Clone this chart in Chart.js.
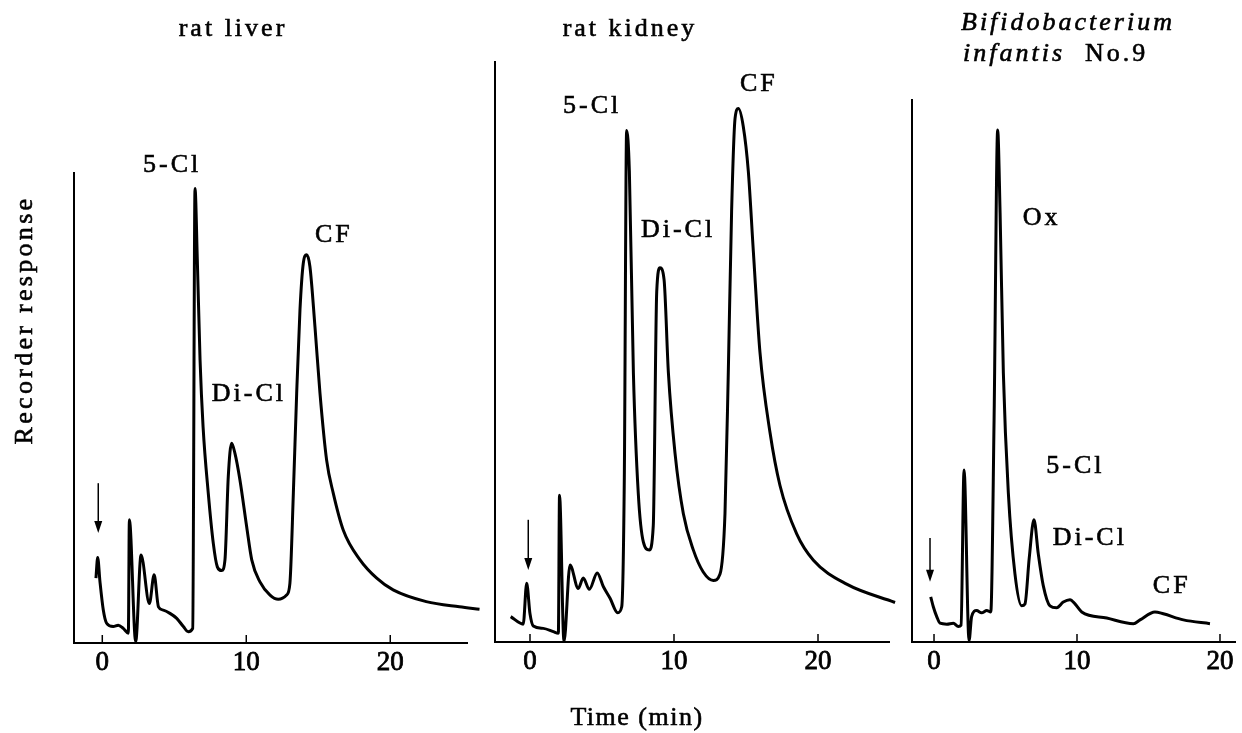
<!DOCTYPE html>
<html>
<head>
<meta charset="utf-8">
<title>Chromatograms</title>
<script src="https://cdn.jsdelivr.net/npm/chart.js@4.4.1/dist/chart.umd.min.js"></script>
<style>
    body { margin: 0; background: #fff; }
    #wrap { position: relative; width: 1242px; height: 733px; }
    .panel { position: absolute; top: 0; height: 733px; }
</style>
</head>
<body>
<div id="wrap">
    <div class="panel" style="left:0;width:490px"><canvas id="c1"></canvas></div>
    <div class="panel" style="left:490px;width:415px"><canvas id="c2"></canvas></div>
    <div class="panel" style="left:905px;width:337px"><canvas id="c3"></canvas></div>
</div>
<script>
// time axis (min) tick labels
const xTicks = [0, 10, 20];

// rat liver
const liverTime = [-0.44, -0.32, -0.16, 0.07, 0.3, 0.76, 1.11, 1.46, 1.81, 1.88, 2.32, 2.69, 3.27, 3.6, 3.9, 4.24, 4.7, 5.17, 5.63, 5.97, 6.28, 6.44, 6.6, 6.79, 7.0, 7.36, 7.71, 7.99, 8.29, 8.52, 8.75, 8.98, 9.21, 9.56, 10.03, 10.38, 10.95, 11.65, 12.22, 12.8, 13.03, 13.27, 13.5, 13.73, 13.96, 14.19, 14.42, 14.77, 15.12, 15.58, 16.04, 16.74, 17.9, 19.06, 20.2, 22.5, 24.8, 26.2];
const liverResp = [13.8, 18.2, 13.0, 7.0, 4.2, 3.5, 3.8, 3.1, 2.1, 26.2, 0.3, 18.7, 8.4, 14.5, 7.7, 7.0, 6.3, 5.25, 3.5, 2.4, 3.1, 96.7, 81.5, 60.2, 46, 31.9, 21.2, 16.2, 15.4, 17.7, 35.4, 42.5, 40.4, 34.7, 24.7, 17.7, 13.0, 10.2, 9.3, 10.2, 12.7, 31.9, 53.1, 70.9, 80.8, 82.6, 80.1, 67.3, 53.1, 38.9, 31.9, 24.0, 17.7, 13.8, 11.3, 8.8, 7.7, 7.2];

// rat kidney
const kidneyTime = [-1.34, -0.47, -0.23, 0, 0.23, 0.92, 1.62, 1.97, 2.05, 2.36, 2.78, 3.35, 3.7, 4.12, 4.67, 5.09, 5.56, 6.09, 6.37, 6.55, 6.71, 6.9, 7.18, 7.52, 7.87, 8.28, 8.56, 8.8, 9.03, 9.31, 9.61, 10.07, 10.65, 11.34, 12.03, 12.73, 13.19, 13.54, 13.77, 14.0, 14.24, 14.47, 14.81, 15.16, 15.51, 15.97, 16.67, 17.36, 18.52, 19.68, 21.99, 25.35];
const kidneyResp = [5.4, 3.8, 12.5, 6.0, 3.4, 2.9, 2.2, 1.85, 31.2, 0.1, 16.4, 11.4, 13.6, 11.2, 14.7, 11.8, 9.3, 6.2, 7.5, 35, 108.8, 100.2, 57.3, 31.6, 21.3, 19.6, 24.7, 74.5, 79.6, 77.1, 57.3, 40.2, 27.3, 19.6, 14.9, 13.1, 14.4, 27.3, 57.3, 91.6, 111.4, 113.5, 109.7, 100.2, 83.1, 61.6, 44.5, 33.3, 23.0, 17.4, 12.3, 8.4];

// Bifidobacterium infantis No.9
const bifidoTime = [-0.23, -0.05, 0.19, 0.42, 0.89, 1.35, 1.7, 1.89, 2.1, 2.45, 2.63, 2.98, 3.33, 3.69, 3.97, 4.2, 4.45, 4.62, 4.85, 5.2, 5.66, 6.13, 6.36, 6.66, 6.99, 7.29, 7.64, 8.11, 8.58, 9.04, 9.51, 9.86, 10.33, 12.08, 13.94, 14.41, 15.45, 16.04, 17.44, 19.3];
const bifidoResp = [9.6, 7.5, 5.4, 4.0, 3.8, 4.0, 3.3, 3.6, 36.6, 0.3, 5.4, 6.7, 6.2, 6.7, 6.4, 47.2, 108.9, 91.4, 57.2, 31.6, 14.5, 7.7, 8.1, 17.9, 26.0, 18.8, 12.0, 7.7, 7.3, 8.5, 9.0, 8.1, 6.4, 5.1, 3.9, 4.7, 6.4, 6.0, 4.7, 3.9];

// peak names: [text, time, response]
const liverPeaks = [["5-Cl", 2.83, 101.7], ["Di-Cl", 7.6, 53.0], ["CF", 14.77, 86.8]];
const kidneyPeaks = [["5-Cl", 2.3, 114], ["Di-Cl", 7.7, 87.6], ["CF", 14.58, 118.7]];
const bifidoPeaks = [["Ox", 6.2, 90.2], ["5-Cl", 7.85, 37.4], ["Di-Cl", 8.3, 22.0], ["CF", 15.3, 11.9]];

// injection arrows: [time, top, tip]
const liverArrow = [-0.28, 34.0, 23.4];
const kidneyArrow = [-0.12, 26.0, 15.3];
const bifidoArrow = [-0.28, 22.1, 12.8];

const FONT = "'Liberation Serif', 'DejaVu Serif', serif";

function inkText(ctx, s, x, y) {
    ctx.fillText(s, x, y);
    ctx.strokeText(s, x, y);
}

const decor = {
    id: 'decor',
    afterDraw(chart, args, o) {
        const ctx = chart.ctx, xs = chart.scales.x, ys = chart.scales.y;
        const base = ys.getPixelForValue(0);
        ctx.save();
        ctx.fillStyle = '#000';
        ctx.strokeStyle = '#000';

        // ticks point up into the plot
        ctx.lineWidth = 1.5;
        xTicks.forEach(v => {
            const px = xs.getPixelForValue(v);
            ctx.beginPath();
            ctx.moveTo(px, base);
            ctx.lineTo(px, base - 8);
            ctx.stroke();
        });

        // injection arrow
        const ax = xs.getPixelForValue(o.arrow[0]);
        const ay1 = ys.getPixelForValue(o.arrow[1]);
        const ay2 = ys.getPixelForValue(o.arrow[2]);
        ctx.beginPath();
        ctx.moveTo(ax, ay1);
        ctx.lineTo(ax, ay2 - 8);
        ctx.stroke();
        ctx.beginPath();
        ctx.moveTo(ax - 4, ay2 - 12);
        ctx.lineTo(ax + 4, ay2 - 12);
        ctx.lineTo(ax, ay2);
        ctx.closePath();
        ctx.fill();

        // peak names
        ctx.lineWidth = 0.6;
        ctx.font = '26px ' + FONT;
        ctx.letterSpacing = '3px';
        ctx.textAlign = 'left';
        ctx.textBaseline = 'middle';
        o.peaks.forEach(p => inkText(ctx, p[0], xs.getPixelForValue(p[1]), ys.getPixelForValue(p[2])));

        // titles and axis names
        ctx.textBaseline = 'alphabetic';
        o.texts.forEach(t => {
            ctx.font = (t.italic ? 'italic ' : '') + (t.size || 26) + 'px ' + FONT;
            ctx.letterSpacing = (t.sp == null ? 3 : t.sp) + 'px';
            ctx.textAlign = t.align || 'left';
            if (t.rot) {
                ctx.save();
                ctx.translate(t.x, t.y);
                ctx.rotate(-Math.PI / 2);
                inkText(ctx, t.text, 0, 0);
                ctx.restore();
            } else {
                inkText(ctx, t.text, t.x, t.y);
            }
        });
        ctx.restore();
    }
};

function makeChart(id, times, resp, cfg) {
    return new Chart(document.getElementById(id), {
        type: 'line',
        data: {
            datasets: [{
                data: times.map((t, i) => ({x: t, y: resp[i]})),
                borderColor: '#000',
                borderWidth: 3,
                pointRadius: 0,
                cubicInterpolationMode: 'monotone',
                clip: false,
                fill: false
            }]
        },
        options: {
            responsive: true,
            maintainAspectRatio: false,
            animation: false,
            layout: {padding: cfg.pad},
            plugins: {
                legend: {display: false},
                tooltip: {enabled: false},
                decor: cfg.decor
            },
            scales: {
                x: {
                    type: 'linear',
                    min: cfg.xMin,
                    max: cfg.xMax,
                    afterBuildTicks: s => { s.ticks = xTicks.map(v => ({value: v})); },
                    afterFit: s => { s.height = 40; },
                    grid: {display: false, drawTicks: false},
                    border: {display: true, color: '#000', width: 2},
                    ticks: {
                        color: '#000', font: {family: FONT, size: 27}, padding: 4,
                        maxRotation: 0, autoSkip: false,
                        textStrokeColor: '#000', textStrokeWidth: 0.8
                    }
                },
                y: {
                    min: 0,
                    max: cfg.yMax,
                    afterFit: s => { s.width = 0; },
                    grid: {display: false, drawTicks: false},
                    border: {display: true, color: '#000', width: 2},
                    ticks: {display: false}
                }
            }
        },
        plugins: [decor]
    });
}

makeChart('c1', liverTime, liverResp, {
    pad: {left: 74, right: 23, top: 173, bottom: 50},
    xMin: -1.965, xMax: 25.33, yMax: 100,
    decor: {
        arrow: liverArrow, peaks: liverPeaks,
        texts: [
            {text: 'rat liver', x: 233, y: 36, align: 'center'},
            {text: 'Recorder response', x: 32, y: 320, align: 'center', rot: true, sp: 3.3}
        ]
    }
});

makeChart('c2', kidneyTime, kidneyResp, {
    pad: {left: 5, right: 16, top: 62, bottom: 51},
    xMin: -2.43, xMax: 24.93, yMax: 123.4,
    decor: {
        arrow: kidneyArrow, peaks: kidneyPeaks,
        texts: [
            {text: 'rat kidney', x: 140, y: 36, align: 'center'},
            {text: 'Time (min)', x: 147, y: 725, align: 'center', sp: 1.5}
        ]
    }
});

makeChart('c3', bifidoTime, bifidoResp, {
    pad: {left: 7, right: 7, top: 100, bottom: 51},
    xMin: -1.54, xMax: 21.05, yMax: 115.3,
    decor: {
        arrow: bifidoArrow, peaks: bifidoPeaks,
        texts: [
            {text: 'Bifidobacterium', x: 56, y: 30, italic: true},
            {text: 'infantis', x: 58, y: 61, italic: true},
            {text: 'No.9', x: 180, y: 61}
        ]
    }
});
</script>
</body>
</html>
